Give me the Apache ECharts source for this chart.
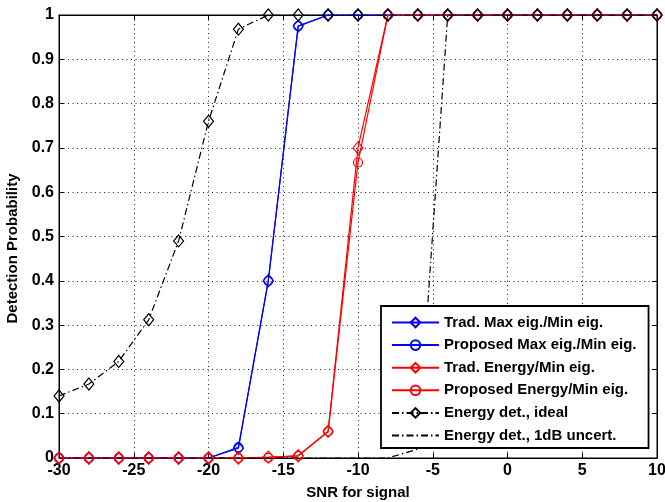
<!DOCTYPE html>
<html>
<head>
<meta charset="utf-8">
<script src="https://cdn.jsdelivr.net/npm/echarts@6/dist/echarts.min.js"></script>
<style>
html,body{margin:0;padding:0;background:#fff;}
#chart{width:665px;height:502px;}
</style>
</head>
<body>
<div id="chart"></div>
<script>
var snr = [-30,-28,-26,-24,-22,-20,-18,-16,-14,-12,-10,-8,-6,-4,-2,0,2,4,6,8,10];
var tradMaxMin = [0,0,0,0,0,0,0.022,0.40,0.975,1,1,1,1,1,1,1,1,1,1,1,1];
var propMaxMin = [0,0,0,0,0,0,0.024,0.40,0.975,1,1,1,1,1,1,1,1,1,1,1,1];
var tradEnergyMin = [0,0,0,0,0,0,0,0.002,0.005,0.06,0.70,1,1,1,1,1,1,1,1,1,1];
var propEnergyMin = [0,0,0,0,0,0,0,0.001,0.005,0.06,0.667,1,1,1,1,1,1,1,1,1,1];
var energyIdeal = [0.14,0.167,0.218,0.312,0.49,0.76,0.968,1,1,1,1,1,1,1,1,1,1,1,1,1,1];
var energy1dB = [0,0,0,0,0,0,0,0,0,0,0,0,0.02,1,1,1,1,1,1,1,1];
var seriesNames = ['Trad. Max eig./Min eig.','Proposed Max eig./Min eig.','Trad. Energy/Min eig.','Proposed Energy/Min eig.','Energy det., ideal','Energy det., 1dB uncert.'];
var xTicks = {min:-30, max:10, interval:5};
var yTicks = {min:0, max:1, interval:0.1};

function pairs(ys){ return snr.map(function(x,i){ return [x, ys[i]]; }); }

var FONT = '"Liberation Sans", Arial, sans-serif';
var dashDot = [7, 3, 1.5, 3];

function mk(name, ys, color, symbol, size, lineType){
  return {
    name: name, type: 'line', data: pairs(ys),
    symbol: symbol, symbolSize: size, showSymbol: symbol !== 'none',
    lineStyle: {color: color, width: 1.2, type: lineType || 'solid'},
    itemStyle: {color: 'rgba(0,0,0,0)', borderColor: color, borderWidth: 1.2},
    emphasis: {disabled: true},
    xAxisIndex: 0, yAxisIndex: 0
  };
}

var legendData = seriesNames.map(function(n, i){
  if (i === 5) {
    return {name: n, itemStyle: {color: 'rgba(0,0,0,0)', borderColor: 'rgba(0,0,0,0)', borderWidth: 0, opacity: 0}};
  }
  return {name: n};
});

var chart = echarts.init(document.getElementById('chart'), null, {renderer: 'canvas'});
chart.setOption({
  animation: false,
  backgroundColor: '#fff',
  grid: {left: 59, right: 8, top: 15, bottom: 44, show: true, borderColor: '#000', borderWidth: 1, backgroundColor: 'transparent', outerBoundsMode: 'none', containLabel: false},
  legend: {
    orient: 'vertical', left: 381, top: 306,
    data: legendData,
    itemWidth: 47, itemHeight: 12, itemGap: 7.6,
    backgroundColor: '#fff', borderColor: '#000', borderWidth: 1.8,
    padding: [9, 12, 5, 10],
    textStyle: {fontFamily: FONT, fontWeight: 'bold', fontSize: 15, color: '#000'},
    selectedMode: false
  },
  xAxis: [{
    type: 'value', min: xTicks.min, max: xTicks.max, interval: xTicks.interval,
    name: 'SNR for signal', nameLocation: 'middle', nameGap: 27,
    nameTextStyle: {fontFamily: FONT, fontWeight: 'bold', fontSize: 15, color: '#000'},
    axisLine: {show: true, onZero: false, lineStyle: {color: '#000', width: 1}},
    axisTick: {show: true, inside: true, length: 5, lineStyle: {color: '#000'}},
    axisLabel: {fontFamily: FONT, fontWeight: 'bold', fontSize: 16, color: '#000', margin: 5},
    splitLine: {show: true, lineStyle: {color: '#222', type: [1, 3.5], width: 1}}
  },{
    type: 'value', position: 'top', min: xTicks.min, max: xTicks.max, interval: xTicks.interval,
    axisLine: {show: true, onZero: false, lineStyle: {color: '#000'}},
    axisTick: {show: true, inside: true, length: 5, lineStyle: {color: '#000'}},
    axisLabel: {show: false}, splitLine: {show: false}
  }],
  yAxis: [{
    type: 'value', min: yTicks.min, max: yTicks.max, interval: yTicks.interval,
    name: 'Detection Probability', nameLocation: 'middle', nameGap: 37,
    nameTextStyle: {fontFamily: FONT, fontWeight: 'bold', fontSize: 15, color: '#000', padding: [0, 0, 0, -24]},
    axisLine: {show: true, onZero: false, lineStyle: {color: '#000', width: 1}},
    axisTick: {show: true, inside: true, length: 5, lineStyle: {color: '#000'}},
    axisLabel: {fontFamily: FONT, fontWeight: 'bold', fontSize: 16, color: '#000', margin: 5},
    splitLine: {show: true, lineStyle: {color: '#222', type: [1, 3.5], width: 1}}
  },{
    type: 'value', position: 'right', min: yTicks.min, max: yTicks.max, interval: yTicks.interval,
    axisLine: {show: true, onZero: false, lineStyle: {color: '#000'}},
    axisTick: {show: true, inside: true, length: 5, lineStyle: {color: '#000'}},
    axisLabel: {show: false}, splitLine: {show: false}
  }],
  series: [
    mk(seriesNames[0], tradMaxMin, '#0000ff', 'diamond', [10, 12]),
    mk(seriesNames[1], propMaxMin, '#0000ff', 'circle', 9),
    mk(seriesNames[2], tradEnergyMin, '#ff0000', 'diamond', [10, 12]),
    mk(seriesNames[3], propEnergyMin, '#ff0000', 'circle', 9),
    mk(seriesNames[4], energyIdeal, '#000000', 'diamond', [10, 12], dashDot),
    mk(seriesNames[5], energy1dB, '#000000', 'none', 0, dashDot)
  ]
});
</script>
</body>
</html>
